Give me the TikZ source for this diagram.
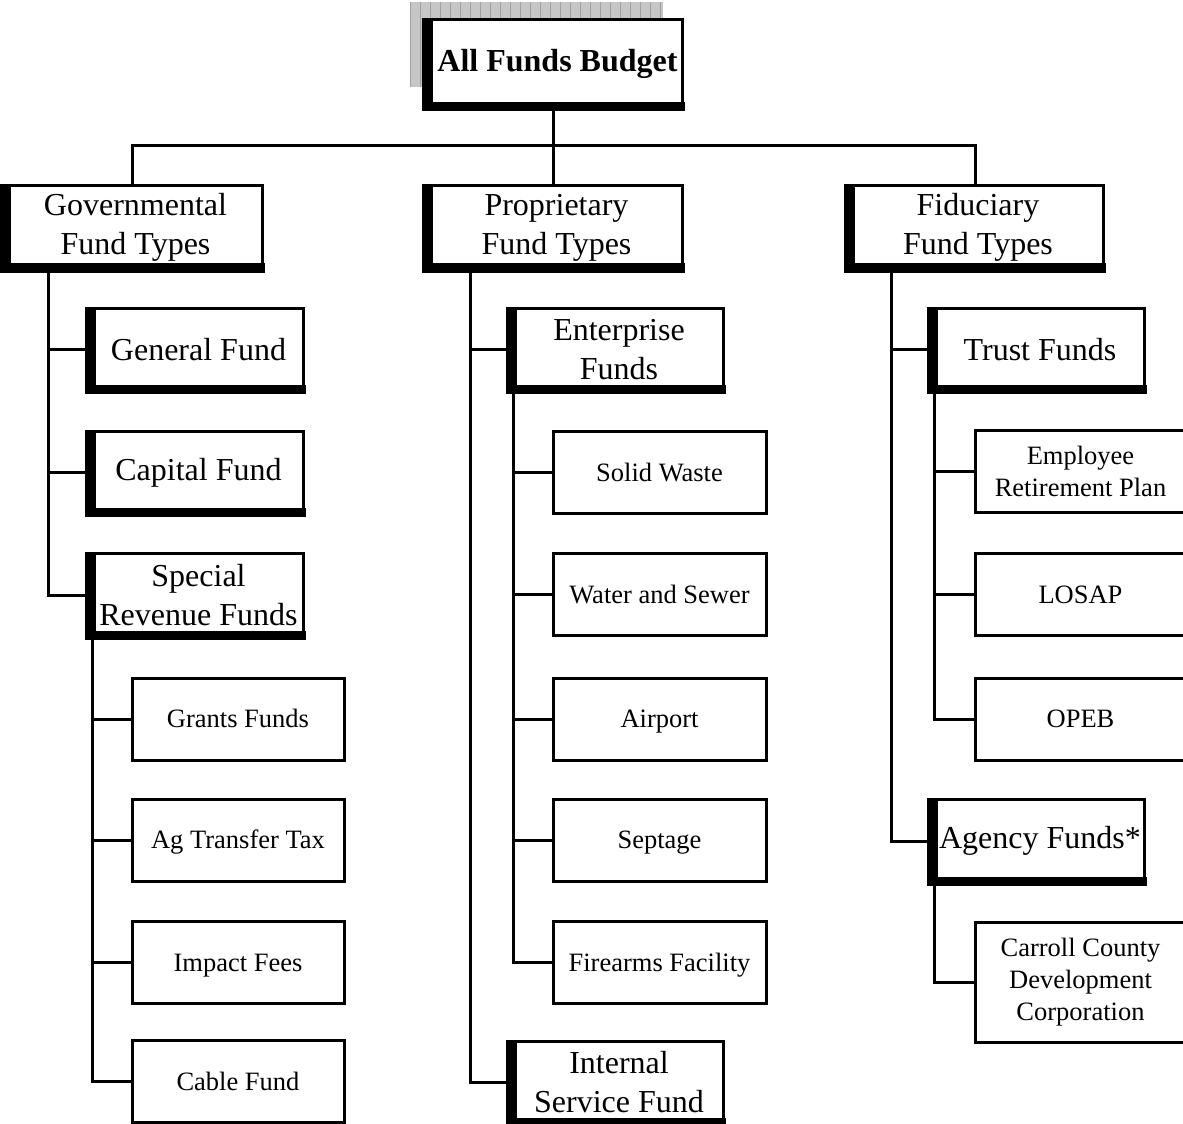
\documentclass[tikz,border=0pt]{standalone}
\usepackage{fontspec}
\setmainfont{Liberation Serif}

\begin{document}
\begin{tikzpicture}[x=1pt,y=-1pt,line width=3pt,
  bigbox/.style={draw,fill=white,inner sep=0pt,align=center,font=\fontsize{32}{39}\selectfont,minimum height=84},
  leafbox/.style={draw,fill=white,inner sep=0pt,align=center,font=\fontsize{26.5}{32}\selectfont,minimum height=82},
  oneline/.style={execute at begin node={\rule[-6pt]{0pt}{29.4pt}}}]
\path[use as bounding box] (0,0) rectangle (1183,1124);
% shadow behind the top box
\fill[gray!45] (410,2) rectangle (663,87);
\draw[gray!75,line width=.7pt,step=10] (410,2) grid (663,87);
% top and fund types
\node[bigbox,minimum width=257,minimum height=88,font=\bfseries\fontsize{32}{39}\selectfont] (top) at (553.5,64) {\hspace*{8pt}All Funds Budget};
\node[bigbox,minimum width=259] (gov) at (132.5,227.5) {\hspace*{6pt}Governmental\\\hspace*{6pt}Fund Types};
\node[bigbox,minimum width=257] (prop) at (553.5,227.5) {\hspace*{6pt}Proprietary\\\hspace*{6pt}Fund Types};
\node[bigbox,minimum width=256] (fid) at (975,227.5) {\hspace*{6pt}Fiduciary\\\hspace*{6pt}Fund Types};
% governmental
\node[bigbox,minimum width=215,minimum height=83] (gen) at (195.5,349.5) {\hspace*{6pt}General Fund};
\node[bigbox,minimum width=215,minimum height=83] (cap) at (195.5,472.5) {\hspace*{6pt}Capital Fund};
\node[bigbox,minimum width=215,minimum height=84] (spec) at (195.5,595) {\hspace*{6pt}Special\\\hspace*{6pt}Revenue Funds};
\node[leafbox,oneline,minimum width=212] (grants) at (238,719) {Grants Funds};
\node[leafbox,oneline,minimum width=212] (agtax) at (238,840) {Ag Transfer Tax};
\node[leafbox,oneline,minimum width=212] (impact) at (238,962.5) {Impact Fees};
\node[leafbox,oneline,minimum width=212] (cable) at (238,1081.5) {Cable Fund};
% proprietary
\node[bigbox,minimum width=214,minimum height=83] (ent) at (616,349.5) {\hspace*{6pt}Enterprise\\\hspace*{6pt}Funds};
\node[bigbox,minimum width=214,minimum height=83] (isf) at (616,1082.5) {\hspace*{6pt}Internal\\\hspace*{6pt}Service Fund};
\node[leafbox,oneline,minimum width=213] (waste) at (659.5,472.5) {Solid Waste};
\node[leafbox,oneline,minimum width=213] (water) at (659.5,594.5) {Water and Sewer};
\node[leafbox,oneline,minimum width=213] (airport) at (659.5,719) {Airport};
\node[leafbox,oneline,minimum width=213] (septage) at (659.5,840) {Septage};
\node[leafbox,oneline,minimum width=213] (firearms) at (659.5,962.5) {Firearms Facility};
% fiduciary
\node[bigbox,minimum width=214,minimum height=83] (trust) at (1037,349.5) {\hspace*{6pt}Trust Funds};
\node[bigbox,minimum width=214,minimum height=84] (agency) at (1037,841) {\hspace*{6pt}Agency Funds*};
\node[leafbox,minimum width=211] (retire) at (1080.5,471) {Employee\\Retirement Plan};
\node[leafbox,oneline,minimum width=211] (losap) at (1080.5,594.5) {LOSAP};
\node[leafbox,oneline,minimum width=211] (opeb) at (1080.5,719) {OPEB};
\node[leafbox,minimum width=211,minimum height=120] (carroll) at (1080.5,982) {Carroll County\\Development\\Corporation};
% heavy left and bottom edges
\foreach \n in {top,gov,prop,fid,gen,cap,spec,ent,isf,trust,agency}{
  \fill ([xshift=-1.5pt]\n.north west) rectangle ([xshift=9pt,yshift=-1.5pt]\n.south west);
  \fill ([xshift=-1.5pt,yshift=-1.5pt]\n.south west) rectangle ([xshift=1.5pt,yshift=8pt]\n.south east);
}
% connectors
\coordinate (bus) at (553.5,145);
\draw (top.south) -- (bus);
\draw (gov.north) |- (bus) -| (fid.north);
\draw (bus) -- (prop.north);
\coordinate (gstem) at (48,270);
\draw (gstem) |- (spec.west);
\draw (gstem |- gen.west) -- (gen.west);
\draw (gstem |- cap.west) -- (cap.west);
\coordinate (sstem) at (92,637);
\draw (sstem) |- (cable.west);
\foreach \n in {grants,agtax,impact}{\draw (sstem |- \n.west) -- (\n.west);}
\coordinate (pstem) at (470,270);
\draw (pstem) |- (isf.west);
\draw (pstem |- ent.west) -- (ent.west);
\coordinate (estem) at (513,391);
\draw (estem) |- (firearms.west);
\foreach \n in {waste,water,airport,septage}{\draw (estem |- \n.west) -- (\n.west);}
\coordinate (fstem) at (891,270);
\draw (fstem) |- (agency.west);
\draw (fstem |- trust.west) -- (trust.west);
\coordinate (tstem) at (934,391);
\draw (tstem) |- (opeb.west);
\foreach \n in {retire,losap}{\draw (tstem |- \n.west) -- (\n.west);}
\coordinate (astem) at (934,883);
\draw (astem) |- (carroll.west);
\end{tikzpicture}
\end{document}
